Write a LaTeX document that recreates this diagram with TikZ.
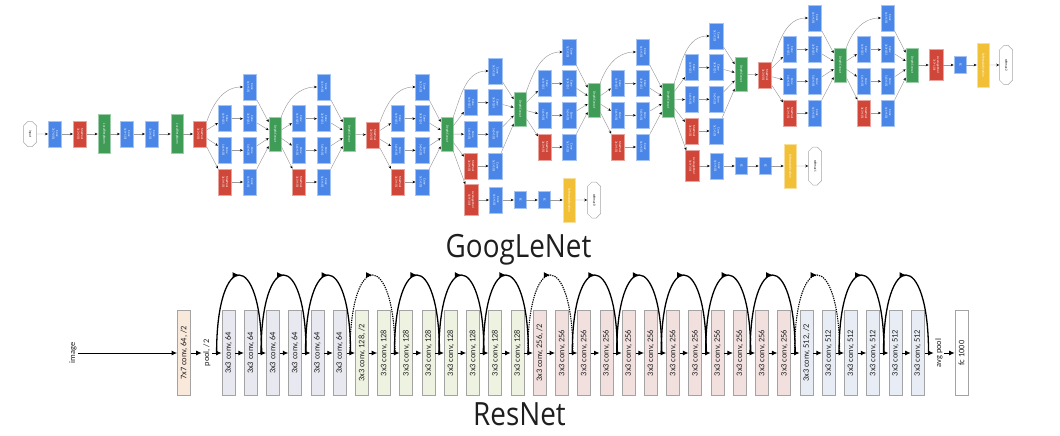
\documentclass[tikz,border=0pt]{standalone}
\usepackage{fontspec}
\usepackage{graphicx}
\setmainfont{Carlito}
\newfontfamily\titlefont{Open Sans}
\usetikzlibrary{arrows.meta,shapes.misc,decorations.markings}

\definecolor{gblue}{HTML}{4A86E8}
\definecolor{gred}{HTML}{D0473A}
\definecolor{ggreen}{HTML}{3E9C57}
\definecolor{gyellow}{HTML}{F2C037}
\definecolor{gedge}{HTML}{9A9A9A}
\definecolor{rgray}{HTML}{A3A3A3}
\definecolor{r77}{HTML}{F8E9DA}
\definecolor{r64}{HTML}{E8E8F0}
\definecolor{r128}{HTML}{EDF2E1}
\definecolor{r256}{HTML}{F2E0DF}
\definecolor{r512}{HTML}{E8ECF4}
\definecolor{tdark}{HTML}{1E1E1E}

\newcommand{\gfont}{\fontsize{3.2}{3.7}\selectfont}
\newcommand{\rfont}{\fontsize{8.4}{10}\selectfont}
\newcommand{\rl}[1]{\rotatebox{-90}{\begin{tabular}{@{}c@{}}#1\end{tabular}}}

% name, prev, x col1, x concat, y top row, y concat
\newcommand{\incep}[6]{%
  \pgfmathsetmacro{\gXa}{#3}%
  \pgfmathsetmacro{\gXb}{(#3+#4)/2}%
  \pgfmathsetmacro{\gYa}{-#5}%
  \pgfmathsetmacro{\gYb}{-#5-31.7}%
  \pgfmathsetmacro{\gYc}{-#5-63.3}%
  \pgfmathsetmacro{\gYd}{-#5-95}%
  \node[conv] (#1u) at (\gXb,\gYa) {\rl{Conv\\1x1+1(S)}};
  \node[conv] (#1b1) at (\gXa,\gYb) {\rl{Conv\\1x1+1(S)}};
  \node[conv] (#1c1) at (\gXa,\gYc) {\rl{Conv\\1x1+1(S)}};
  \node[mpool] (#1d1) at (\gXa,\gYd) {\rl{MaxPool\\3x3+1(S)}};
  \node[conv] (#1b2) at (\gXb,\gYb) {\rl{Conv\\3x3+1(S)}};
  \node[conv] (#1c2) at (\gXb,\gYc) {\rl{Conv\\5x5+1(S)}};
  \node[conv] (#1d2) at (\gXb,\gYd) {\rl{Conv\\1x1+1(S)}};
  \node[dcat] (#1cat) at (#4,-#6) {\rl{DepthConcat}};
  \draw[ge] (#2.north east) to[out=70,in=180] (#1u.west);
  \draw[ge] (#2) -- (#1b1);
  \draw[ge] (#2) -- (#1c1);
  \draw[ge] (#2) -- (#1d1);
  \draw[ge] (#1b1) -- (#1b2);
  \draw[ge] (#1c1) -- (#1c2);
  \draw[ge] (#1d1) -- (#1d2);
  \draw[ge] (#1u) -- (#1cat);
  \draw[ge] (#1b2) -- (#1cat);
  \draw[ge] (#1c2) -- (#1cat);
  \draw[ge] (#1d2) -- (#1cat);
}

\begin{document}
\begin{tikzpicture}[x=1pt,y=1pt,
  gnode/.style={rectangle, inner sep=0pt, text=white, font=\gfont, line width=0.6pt},
  conv/.style={gnode, fill=gblue, draw=gblue!50!white, minimum width=13.5pt, minimum height=26pt},
  mpool/.style={gnode, fill=gred, draw=gred!50!white, minimum width=13.5pt, minimum height=26pt},
  apool/.style={gnode, fill=gred, draw=gred!50!white, minimum width=14pt, minimum height=31pt},
  lrn/.style={gnode, fill=ggreen, draw=ggreen!50!white, minimum width=12pt, minimum height=39pt},
  dcat/.style={gnode, fill=ggreen, draw=ggreen!50!white, minimum width=12pt, minimum height=34pt},
  fcn/.style={gnode, fill=gblue, draw=gblue!50!white, minimum width=12pt, minimum height=17pt},
  smx/.style={gnode, fill=gyellow, draw=gyellow!50!white, minimum width=12pt, minimum height=44pt},
  oct/.style={chamfered rectangle, chamfered rectangle xsep=2.5pt, chamfered rectangle ysep=4pt,
     draw=gray!70, fill=white, text=black, font=\gfont, inner sep=0pt, line width=0.5pt,
     minimum width=13pt, minimum height=25pt},
  ge/.style={draw=gedge, line width=0.45pt, -{Stealth[length=3pt,width=2.5pt,color=black]}},
  rbox/.style={draw=rgray, line width=0.8pt, minimum width=13pt, minimum height=85pt,
     inner sep=0pt, font=\rfont, text=tdark},
  rtxt/.style={inner sep=1.5pt, font=\rfont, text=tdark},
  rarr/.style={draw=black, line width=0.9pt, -{Latex[length=5.5pt,width=5pt]}},
  skiparc/.style={draw=black, line width=1.3pt, postaction={decorate},
     decoration={markings, mark=at position 0.5 with {\arrow{Latex[length=6.5pt,width=6pt]}}}},
  ttl/.style={anchor=base, text=tdark, font=\titlefont\fontsize{32}{36}\selectfont, inner sep=0pt}
]
\useasboundingbox (0,0) rectangle (1060,-436);

% ================= GoogLeNet =================
\node[oct] (input) at (30,-134) {\rl{input}};
\node[conv] (conv1) at (55,-134) {\rl{Conv\\7x7+2(S)}};
\node[mpool] (pool1) at (80,-134) {\rl{MaxPool\\3x3+2(S)}};
\node[lrn] (lrn1) at (104,-134) {\rl{LocalRespNorm}};
\node[conv] (conv2) at (127,-134) {\rl{Conv\\1x1+1(V)}};
\node[conv] (conv3) at (152,-134) {\rl{Conv\\3x3+1(S)}};
\node[lrn] (lrn2) at (177,-134) {\rl{LocalRespNorm}};
\node[mpool] (pool2) at (200,-134) {\rl{MaxPool\\3x3+2(S)}};
\draw[ge] (input) -- (conv1);
\draw[ge] (conv1) -- (pool1);
\draw[ge] (pool1) -- (lrn1);
\draw[ge] (lrn1) -- (conv2);
\draw[ge] (conv2) -- (conv3);
\draw[ge] (conv3) -- (lrn2);
\draw[ge] (lrn2) -- (pool2);

\incep{iaiii}{pool2}{225}{275}{87}{134}
\incep{ibiii}{iaiiicat}{299}{349}{87}{134}
\node[mpool] (pool3) at (373,-135) {\rl{MaxPool\\3x3+2(S)}};
\draw[ge] (ibiiicat) -- (pool3);
\incep{iaiv}{pool3}{398}{447}{87}{134}
\incep{ibiv}{iaivcat}{471}{520}{71}{109}
\incep{iciv}{ibivcat}{545}{594}{52}{100}
\incep{idiv}{icivcat}{618}{668}{52}{100}
\incep{ieiv}{idivcat}{692}{741}{36}{74}
\node[mpool] (pool4) at (765,-75) {\rl{MaxPool\\3x3+2(S)}};
\draw[ge] (ieivcat) -- (pool4);
\incep{iav}{pool4}{790}{840}{18}{65}
\incep{ibv}{iavcat}{864}{912}{18}{65}
\node[apool] (avgf) at (936,-65) {\rl{AveragePool\\7x7+1(V)}};
\node[fcn] (fcf) at (960,-65) {\rl{FC}};
\node[smx] (smf) at (983,-65) {\rl{SoftmaxActivation}};
\node[oct, minimum height=39pt] (smii) at (1006,-65) {\rl{softmax2}};
\draw[ge] (ibvcat) -- (avgf);
\draw[ge] (avgf) -- (fcf);
\draw[ge] (fcf) -- (smf);
\draw[ge] (smf) -- (smii);

% auxiliary classifier 1
\node[apool] (xaavg) at (471,-200) {\rl{AveragePool\\5x5+3(V)}};
\node[conv] (xaconv) at (496,-200) {\rl{Conv\\1x1+1(S)}};
\node[fcn] (xafca) at (520,-200) {\rl{FC}};
\node[fcn] (xafcb) at (544,-200) {\rl{FC}};
\node[smx] (xasm) at (569,-200) {\rl{SoftmaxActivation}};
\node[oct, minimum height=36pt] (smo) at (594,-200) {\rl{softmax0}};
\draw[ge] (iaivcat) -- (xaavg);
\draw[ge] (xaavg) -- (xaconv);
\draw[ge] (xaconv) -- (xafca);
\draw[ge] (xafca) -- (xafcb);
\draw[ge] (xafcb) -- (xasm);
\draw[ge] (xasm) -- (smo);

% auxiliary classifier 2
\node[apool] (xbavg) at (692,-166) {\rl{AveragePool\\5x5+3(V)}};
\node[conv] (xbconv) at (717,-166) {\rl{Conv\\1x1+1(S)}};
\node[fcn] (xbfca) at (741,-166) {\rl{FC}};
\node[fcn] (xbfcb) at (765,-166) {\rl{FC}};
\node[smx] (xbsm) at (790,-166) {\rl{SoftmaxActivation}};
\node[oct, minimum height=38pt] (smi) at (815,-166) {\rl{softmax1}};
\draw[ge] (idivcat) -- (xbavg);
\draw[ge] (xbavg) -- (xbconv);
\draw[ge] (xbconv) -- (xbfca);
\draw[ge] (xbfca) -- (xbfcb);
\draw[ge] (xbfcb) -- (xbsm);
\draw[ge] (xbsm) -- (smi);

\node[ttl] (tg) at (518.5,-257) {\scalebox{0.87}[1]{GoogLeNet}};

% ================= ResNet =================
\node[rtxt] (img) at (73,-353) {\rotatebox{90}{image}};
\node[rbox, fill=r77] (r0) at (184,-353) {\rotatebox{90}{7x7 conv, 64, /2}};
\node[rtxt] (pool) at (207,-353) {\rotatebox{90}{pool, /2}};
\foreach \k in {1,...,32}{%
  \pgfmathsetmacro{\bx}{228.5+(\k-1)*22.23}%
  \ifnum\k<7 \def\bc{r64}\def\bn{64}\else
   \ifnum\k<15 \def\bc{r128}\def\bn{128}\else
    \ifnum\k<27 \def\bc{r256}\def\bn{256}\else \def\bc{r512}\def\bn{512}\fi\fi\fi
  \def\bs{}%
  \ifnum\k=7 \def\bs{, /2}\fi
  \ifnum\k=15 \def\bs{, /2}\fi
  \ifnum\k=27 \def\bs{, /2}\fi
  \node[rbox, fill=\bc] (r\k) at (\bx,-353) {\rotatebox{90}{3x3 conv, \bn\bs}};
}
\node[rtxt] (avgp) at (939,-353) {\rotatebox{90}{avg pool}};
\node[rbox, fill=white] (rfc) at (961.5,-353) {\rotatebox{90}{fc 1000}};

\draw[rarr] (img) -- (r0);
\draw[rarr] (r0) -- (pool);
\draw[rarr] (pool) -- (r1);
\foreach \k in {1,...,31}{%
  \pgfmathtruncatemacro{\n}{\k+1}%
  \draw[rarr] (r\k) -- (r\n);
}
\draw[rarr] (r32) -- (avgp);
\draw[rarr] (avgp) -- (rfc);

\foreach \a in {1,3,5,9,11,13,17,19,21,23,25,29,31}{%
  \pgfmathtruncatemacro{\b}{\a+1}%
  \draw[skiparc] ([xshift=-5pt]r\a.west) .. controls ([xshift=-5pt,yshift=104pt]r\a.west) and ([xshift=4pt,yshift=104pt]r\b.east) .. ([xshift=4pt]r\b.east);
}
\foreach \a in {7,15,27}{%
  \pgfmathtruncatemacro{\b}{\a+1}%
  \draw[skiparc, densely dotted, line width=1.1pt] ([xshift=-5pt]r\a.west) .. controls ([xshift=-5pt,yshift=104pt]r\a.west) and ([xshift=4pt,yshift=104pt]r\b.east) .. ([xshift=4pt]r\b.east);
}

\node[ttl] (tr) at (519.5,-425) {\scalebox{0.87}[1]{ResNet}};
\end{tikzpicture}
\end{document}
